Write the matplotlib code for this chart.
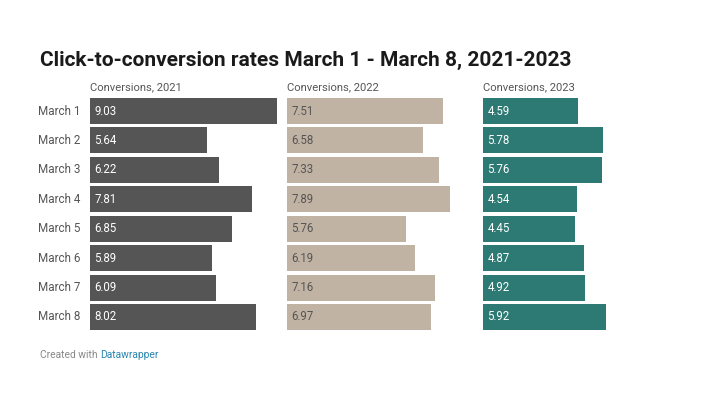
import matplotlib.pyplot as plt

days = ["March 1", "March 2", "March 3", "March 4", "March 5", "March 6", "March 7", "March 8"]
conv_2021 = [9.03, 5.64, 6.22, 7.81, 6.85, 5.89, 6.09, 8.02]
conv_2022 = [7.51, 6.58, 7.33, 7.89, 5.76, 6.19, 7.16, 6.97]
conv_2023 = [4.59, 5.78, 5.76, 4.54, 4.45, 4.87, 4.92, 5.92]
headers = ["Conversions, 2021", "Conversions, 2022", "Conversions, 2023"]

plt.rcParams['font.family'] = ['Roboto', 'DejaVu Sans']

W, H = 712, 398
fig = plt.figure(figsize=(W / 100, H / 100), dpi=100)
fig.patch.set_facecolor("white")

panels = [
    (conv_2021, "#555555", "white", 90),
    (conv_2022, "#c1b3a3", "#555555", 287),
    (conv_2023, "#2c7a73", "white", 483),
]

top_px, bot_px = 96.3, 331.7
panel_w = 187
xmax = 9.03

for i, (vals, color, txt_color, left_px) in enumerate(panels):
    ax = fig.add_axes([left_px / W, 1 - bot_px / H, panel_w / W, (bot_px - top_px) / H])
    ypos = list(range(len(days)))
    ax.barh(ypos, vals, height=0.88, color=color)
    ax.set_xlim(0, xmax)
    ax.set_ylim(len(days) - 0.5, -0.5)
    ax.axis("off")
    for y, v in zip(ypos, vals):
        ax.text(0.22, y, f"{v:.2f}", color=txt_color, fontsize=8.3,
                va="center", ha="left")
    fig.text(left_px / W, 1 - 87 / H, headers[i], fontsize=8.1, color="#555555",
             va="center", ha="left")
    if i == 0:
        for y, d in zip(ypos, days):
            ax.text(-0.45, y, d, fontsize=8.4, color="#555555",
                    va="center", ha="right")

fig.text(40 / W, 1 - 60 / H, "Click-to-conversion rates March 1 - March 8, 2021-2023",
         fontsize=15, fontweight="bold", color="#1a1a1a", va="center", ha="left")

t = fig.text(40 / W, 1 - 355 / H, "Created with ", fontsize=7.4, color="#888888",
             va="center", ha="left")
fig.canvas.draw()
bb = t.get_window_extent()
fig.text(bb.x1 / W, 1 - 355 / H, "Datawrapper", fontsize=7.4, color="#2a86b0",
         va="center", ha="left")

plt.savefig("out.png", dpi=100)
